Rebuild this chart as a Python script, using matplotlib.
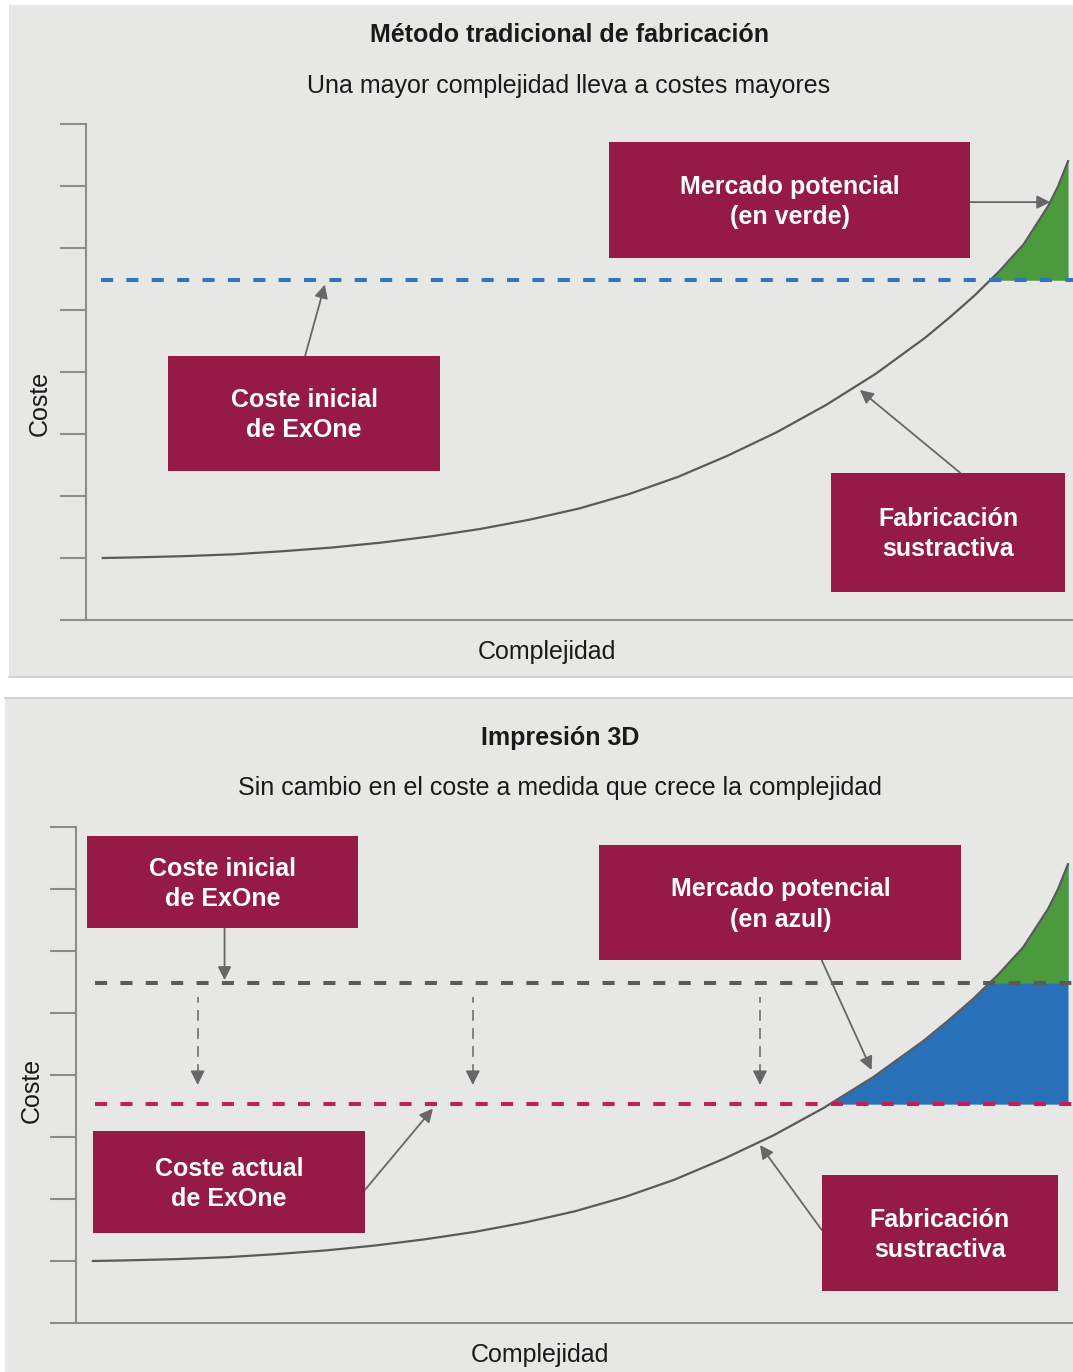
"""
Coste vs complejidad: fabricación tradicional frente a impresión 3D
"""
import matplotlib.pyplot as plt
import numpy as np
from matplotlib.patches import Rectangle

W, H = 1073, 1372

# curva de fabricación sustractiva (complejidad -> coste)
complexity = [0.17, 0.5, 1.0, 1.5, 2.0, 2.5, 3.0, 3.5, 4.0, 4.5, 5.0, 5.5, 6.0,
              6.5, 7.0, 7.5, 8.0, 8.5, 8.75, 9.0, 9.25, 9.5, 9.75, 9.85, 9.95]
cost = [1.00, 1.01, 1.03, 1.06, 1.11, 1.17, 1.25, 1.35, 1.47, 1.62, 1.80, 2.03, 2.31,
        2.65, 3.03, 3.47, 3.97, 4.55, 4.88, 5.23, 5.62, 6.06, 6.68, 7.00, 7.40]

coste_inicial = 5.48   # coste inicial de ExOne
coste_actual = 3.53    # coste actual de ExOne
y_ticks = list(range(9))

BG = '#e7e7e5'
BOX = '#951b46'
AXIS = '#8c8c8c'
CURVE = '#5a5a5a'
ARROW = '#676767'
GREEN = '#4c9a3e'
BLUE = '#2870b8'

plt.rcParams['font.family'] = ['Liberation Sans', 'DejaVu Sans']


def fx(px):
    return px / W


def fy(py):
    return 1 - py / H


def make_axes(fig, left, top, right, bottom):
    ax = fig.add_axes([fx(left), fy(bottom), (right - left) / W, (bottom - top) / H])
    ax.set_xlim(0, 10)
    ax.set_ylim(0, 8)
    ax.patch.set_visible(False)
    for s in ['top', 'right']:
        ax.spines[s].set_visible(False)
    for s in ['left', 'bottom']:
        ax.spines[s].set_color(AXIS)
        ax.spines[s].set_linewidth(1.5)
    ax.set_yticks(y_ticks)
    ax.set_xticks([])
    ax.tick_params(axis='y', length=26 * 0.72, width=1.5, color=AXIS, labelleft=False)
    return ax


def box(ax, x, y, w, h, text):
    ax.add_patch(Rectangle((x, y), w, h, facecolor=BOX, edgecolor='none',
                           zorder=5, clip_on=False))
    ax.text(x + w / 2, y + h / 2 - 0.03, text, ha='center', va='center', color='white',
            fontsize=18, fontweight='bold', linespacing=1.32, zorder=6)


def arrow(ax, start, end):
    ax.annotate('', xy=end, xytext=start, zorder=4,
                arrowprops=dict(arrowstyle='-|>', color=ARROW, lw=1.3,
                                mutation_scale=20, shrinkA=0, shrinkB=0))


fig = plt.figure(figsize=(W / 100, H / 100), dpi=100)

# fondos de los dos paneles
for (l, t, r, b) in [(9, 5, 1073, 677), (5, 698, 1073, 1372)]:
    fig.add_artist(Rectangle((fx(l), fy(b)), (r - l) / W, (b - t) / H,
                             transform=fig.transFigure, facecolor=BG,
                             edgecolor='none', zorder=-10))
fig.add_artist(plt.Line2D([fx(9), 1], [fy(677), fy(677)], transform=fig.transFigure,
                          color='#c9c9c9', lw=1.2, zorder=-9))
fig.add_artist(plt.Line2D([fx(5), 1], [fy(698), fy(698)], transform=fig.transFigure,
                          color='#c9c9c9', lw=1.2, zorder=-9))

x = np.array(complexity)
y = np.array(cost)

# ---------------- Panel 1: método tradicional ----------------
fig.text(fx(569), fy(35), 'Método tradicional de fabricación', ha='center', va='center',
         fontsize=18, fontweight='bold', color='#1a1a1a')
fig.text(fx(569), fy(86), 'Una mayor complejidad lleva a costes mayores', ha='center',
         va='center', fontsize=18, color='#1a1a1a')
fig.text(fx(547), fy(652), 'Complejidad', ha='center', va='center', fontsize=18,
         color='#1a1a1a')
fig.text(fx(40), fy(403), 'Coste', ha='center', va='center', fontsize=18,
         rotation=90, color='#1a1a1a')

ax1 = make_axes(fig, 86, 124, 1073, 620)
ax1.fill_between(x, coste_inicial, y, where=y >= coste_inicial, interpolate=True,
                 color=GREEN, lw=0, zorder=2)
ax1.plot(x, y, color=CURVE, lw=1.6, zorder=3)
ax1.hlines(coste_inicial, 0.15, 10, colors='#2f76bc', lw=2.9, linestyles=(0, (3.0, 3.3)),
           zorder=3)

box(ax1, 5.30, 5.84, 3.66, 1.87, 'Mercado potencial\n(en verde)')
box(ax1, 0.83, 2.40, 2.76, 1.86, 'Coste inicial\nde ExOne')
box(ax1, 7.55, 0.45, 2.37, 1.92, 'Fabricación\nsustractiva')
arrow(ax1, (2.22, 4.26), (2.42, coste_inicial - 0.07))
arrow(ax1, (8.96, 6.74), (9.77, 6.74))
arrow(ax1, (8.86, 2.37), (7.84, 3.71))

# ---------------- Panel 2: impresión 3D ----------------
fig.text(fx(560), fy(738), 'Impresión 3D', ha='center', va='center',
         fontsize=18, fontweight='bold', color='#1a1a1a')
fig.text(fx(560), fy(788), 'Sin cambio en el coste a medida que crece la complejidad',
         ha='center', va='center', fontsize=18, color='#1a1a1a')
fig.text(fx(540), fy(1355), 'Complejidad', ha='center', va='center', fontsize=18,
         color='#1a1a1a')
fig.text(fx(32), fy(1090), 'Coste', ha='center', va='center', fontsize=18,
         rotation=90, color='#1a1a1a')

ax2 = make_axes(fig, 76, 827, 1073, 1323)
# azul primero (hasta la curva), el verde se dibuja encima por sobre coste_inicial
ax2.fill_between(x, coste_actual, y, where=y >= coste_actual,
                 interpolate=True, color=BLUE, lw=0, zorder=2)
ax2.fill_between(x, coste_inicial, y, where=y >= coste_inicial, interpolate=True,
                 color=GREEN, lw=0, zorder=2)
ax2.plot(x, y, color=CURVE, lw=1.6, zorder=3)
ax2.hlines(coste_inicial, 0.19, 10, colors='#5b5b5b', lw=2.9,
           linestyles=(0, (3.0, 3.3)), zorder=3)
ax2.hlines(coste_actual, 0.19, 10, colors='#c2205c', lw=2.9,
           linestyles=(0, (3.0, 3.3)), zorder=3)

# flechas discontinuas: bajada del coste
for xv in [1.22, 3.98, 6.86]:
    ax2.vlines(xv, 4.0, 5.26, colors='#7a7a7a', lw=1.3, linestyles=(0, (6, 4)), zorder=3)
    ax2.annotate('', xy=(xv, 3.84), xytext=(xv, 4.02), zorder=3,
                 arrowprops=dict(arrowstyle='-|>', color='#666666', lw=1,
                                 mutation_scale=22, shrinkA=0, shrinkB=0))

box(ax2, 0.11, 6.37, 2.72, 1.48, 'Coste inicial\nde ExOne')
box(ax2, 5.25, 5.85, 3.63, 1.86, 'Mercado potencial\n(en azul)')
box(ax2, 0.17, 1.45, 2.73, 1.65, 'Coste actual\nde ExOne')
box(ax2, 7.48, 0.52, 2.37, 1.87, 'Fabricación\nsustractiva')
arrow(ax2, (1.49, 6.37), (1.49, coste_inicial + 0.05))
arrow(ax2, (7.48, 5.85), (7.98, 4.08))
arrow(ax2, (2.90, 2.15), (3.58, coste_actual - 0.07))
arrow(ax2, (7.48, 1.50), (6.86, 2.87))

fig.savefig('out.png', dpi=100, facecolor='white')
